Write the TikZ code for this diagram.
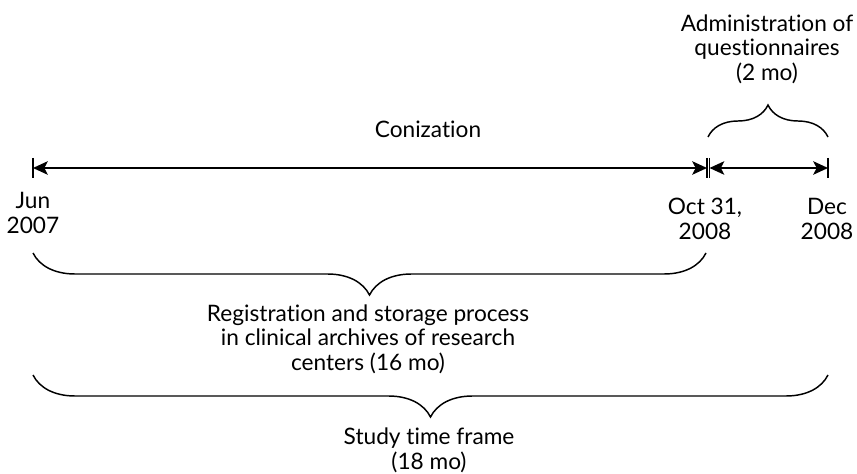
\documentclass[tikz,border=0pt]{standalone}
\usepackage{fontspec}
\setmainfont{Lato}[Ligatures=NoCommon]
\usetikzlibrary{arrows.meta,decorations.pathreplacing}

\begin{document}
\begin{tikzpicture}
[
x=0.75pt, y=-0.75pt,
tnode/.style={align=center, inner sep=0, font=\fontsize{17}{18.5}\selectfont},
tick/.style={line width=1pt},
tline/.style={line width=1.8pt, {Stealth[length=11pt,width=10pt,inset=2.5pt]}-{Stealth[length=11pt,width=10pt,inset=2.5pt]}},
brc/.style={line width=1.1pt, decorate, decoration={brace, amplitude=#1}}
]
\useasboundingbox (0,0) rectangle (857,474);

% time line
\coordinate (start) at (33,168);
\coordinate (cutL) at (707,168);
\coordinate (cutR) at (709.5,168);
\coordinate (end) at (828,168);

\foreach \p in {start,cutL,cutR,end}
  \draw[tick] ([yshift=7.5pt]\p) -- ([yshift=-7.5pt]\p);
\draw[tline] (start) -- (cutL);
\draw[tline] (cutR) -- (end);

% braces
\coordinate (qL) at (708,137);
\coordinate (qR) at (828,137);
\coordinate (rL) at (33,253);
\coordinate (rR) at (706,253);
\coordinate (sL) at (33,375);
\coordinate (sR) at (828,375);

\draw[brc=24pt] (qL) -- (qR);
\draw[brc=31.5pt] (rR) -- (rL);
\draw[brc=31.5pt] (sR) -- (sL);

% labels
\node[tnode] (coniz) at (428,129) {Conization};
\node[tnode] (jun) at (33,213) {Jun\\2007};
\node[tnode] (oct) at (705,219) {Oct 31,\\2008};
\node[tnode] (dec) at (827,219) {Dec\\2008};
\node[tnode] (admin) at (767,49) {Administration of\\questionnaires\\(2 mo)};
\node[tnode] (reg) at (368,339) {Registration and storage process\\in clinical archives of research\\centers (16 mo)};
\node[tnode] (study) at (429,450) {Study time frame\\(18 mo)};
\end{tikzpicture}
\end{document}
